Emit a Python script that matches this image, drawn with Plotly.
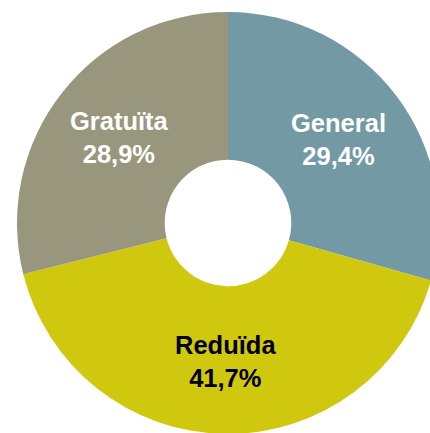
import math
import plotly.graph_objects as go

labels = ["General", "Reduïda", "Gratuïta"]
values = [29.4, 41.7, 28.9]
value_texts = ["29,4%", "41,7%", "28,9%"]
colors = ["#7399A4", "#D0C80E", "#99967E"]
text_colors = ["white", "black", "white"]

W, H = 450, 445
cx, cy = 228, 223  # centre in figure px (from top-left)
R = 211
hole = 0.30
label_r = 0.655 * R

dom_x = [(cx - R) / W, (cx + R) / W]
dom_y = [(H - cy - R) / H, (H - cy + R) / H]

fig = go.Figure(go.Pie(
    labels=labels, values=values, sort=False, direction="clockwise", rotation=0,
    hole=hole, marker=dict(colors=colors, line=dict(width=0)),
    textinfo="none", hoverinfo="label+percent", showlegend=False,
    domain=dict(x=dom_x, y=dom_y),
))

total = sum(values)
cum = 0
for lab, v, t, tc in zip(labels, values, value_texts, text_colors):
    mid = (cum + v / 2) / total * 2 * math.pi
    cum += v
    px = cx + label_r * math.sin(mid)
    py = cy - label_r * math.cos(mid)
    fig.add_annotation(
        x=px / W, y=(H - py) / H, xref="paper", yref="paper",
        text=f"{lab}<br>{t}", showarrow=False, xanchor="center", yanchor="middle",
        font=dict(family="Liberation Sans, Arial, sans-serif", size=25.5, color=tc, weight="bold"),
    )

fig.update_layout(width=W, height=H, margin=dict(l=0, r=0, t=0, b=0),
                  paper_bgcolor="white", plot_bgcolor="white")
fig.write_html(
    "out.html",
    config={"displayModeBar": False},
    post_script="document.body.style.margin='0';document.body.style.overflow='hidden';"
                "document.documentElement.style.overflow='hidden';",
)
